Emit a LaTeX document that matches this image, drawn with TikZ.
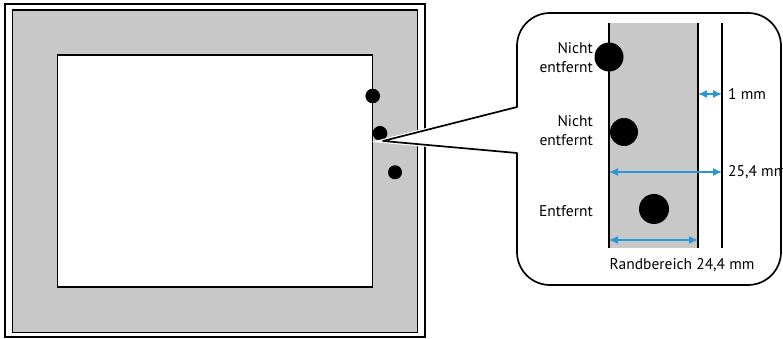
\documentclass[tikz,border=0pt]{standalone}
\usepackage{fontspec}
\setmainfont{PT Sans}
\usetikzlibrary{arrows.meta}
\definecolor{randgrau}{RGB}{200,200,200}
\definecolor{massblau}{RGB}{41,151,214}
\begin{document}
\begin{tikzpicture}[x=1pt, y=1pt,
  label/.style={font=\fontsize{15.5}{19}\selectfont, inner sep=0pt},
  mass/.style={draw=massblau, line width=1.4pt, {Latex[length=9pt,width=8pt]}-{Latex[length=9pt,width=8pt]}},
  punkt/.style={circle, fill=black, inner sep=0pt}]

  \useasboundingbox (0,0) rectangle (783,339);

  % Druckbogen mit Rand
  \draw[line width=1.4pt] (5,2) rectangle (425,335);
  \filldraw[fill=randgrau, line width=1.1pt] (12.7,6.3) rectangle (417.7,329);
  \filldraw[fill=white, line width=1.2pt] (57.7,52) rectangle (372.7,284);

  % Punkte am Rand
  \node[punkt, minimum size=14.6pt] (p1) at (372.7,243) {};
  \node[punkt, minimum size=14.6pt] (p2) at (380,205.7) {};
  \node[punkt, minimum size=14pt]   (p3) at (395,166.7) {};

  % Lupe (Sprechblase)
  \def\bl{517} \def\br{781} \def\bo{326} \def\bu{54} \def\r{33}
  \coordinate (spitze) at (383,198);
  \draw[white, line width=4pt] (\bl,232) -- (spitze) -- (\bl,186);
  \draw[fill=white, line width=1.7pt, line join=round]
    (spitze) -- (\bl,232) -- (\bl,\bo-\r)
    arc[start angle=180, end angle=90, radius=\r] -- (\br-\r,\bo)
    arc[start angle=90, end angle=0, radius=\r] -- (\br,\bu+\r)
    arc[start angle=0, end angle=-90, radius=\r] -- (\bl+\r,\bu)
    arc[start angle=270, end angle=180, radius=\r] -- (\bl,186) -- cycle;

  % Randstreifen vergroessert
  \def\xa{609} \def\xb{698} \def\xc{722}
  \fill[randgrau] (\xa,91) rectangle (\xb,316);
  \draw[line width=1.8pt] (\xa,91) -- (\xa,316);
  \draw[line width=1.8pt] (\xb,91) -- (\xb,316);
  \draw[line width=1.2pt] (\xc,91) -- (\xc,316);

  % Punkte in der Lupe
  \node[punkt, minimum size=29pt] (d1) at (\xa,282) {};
  \node[punkt, minimum size=28pt] (d2) at (624,207) {};
  \node[punkt, minimum size=30pt] (d3) at (654,130) {};

  % Beschriftung der Punkte
  \node[label, anchor=east, align=right] (t1) at (593,281.5) {Nicht\\entfernt};
  \node[label, anchor=east, align=right] (t2) at (593,208.5) {Nicht\\entfernt};
  \node[label, anchor=east] (t3) at (593,128) {Entfernt};

  % Masspfeile
  \coordinate (m1a) at (\xb,245);  \coordinate (m1b) at (\xc,245);
  \coordinate (m2a) at (\xa,167);  \coordinate (m2b) at (\xc,167);
  \coordinate (m3a) at (\xa,99);   \coordinate (m3b) at (\xb,99);
  \draw[mass] (m1a) -- (m1b);
  \draw[mass] (m2a) -- (m2b);
  \draw[mass] (m3a) -- (m3b);
  \node[label, anchor=west] (l1) at (728,245) {1 mm};
  \node[label, anchor=west] (l2) at (728,167) {25,4 mm};
  \node[label] (l3) at (682,74) {Randbereich 24,4 mm};

\end{tikzpicture}
\end{document}
